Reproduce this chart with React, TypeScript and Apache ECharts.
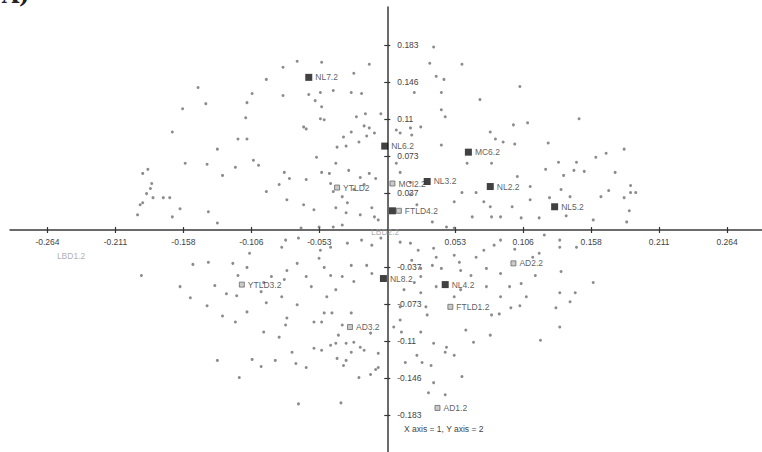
import React, { useEffect, useRef } from "react";
import * as echarts from "echarts";

// Background sample dots (axis 1, axis 2)
const sampleDots: [number, number][] = [
  [-0.147,0.141],[-0.159,0.120],[-0.141,0.125],[-0.167,0.097],[-0.109,0.126],[-0.110,0.111],[-0.105,0.135],[-0.116,0.090],[-0.109,0.090],[-0.132,0.080],
  [-0.081,0.161],[-0.070,0.167],[-0.051,0.166],[-0.094,0.149],[-0.081,0.133],[-0.061,0.134],[-0.052,0.136],[-0.042,0.138],[-0.028,0.136],[-0.020,0.135],[-0.026,0.155],[-0.014,0.164],[-0.056,0.128],[-0.051,0.122],[-0.052,0.110],[-0.049,0.109],[-0.065,0.102],[-0.063,0.100],[-0.024,0.112],[-0.017,0.115],[-0.018,0.103],[-0.014,0.101],[-0.005,0.115],[-0.034,0.092],[-0.028,0.097],[-0.022,0.087],[-0.016,0.093],[-0.010,0.096],[-0.039,0.082],[-0.032,0.083],
  [0.036,0.181],[0.033,0.165],[0.058,0.164],[0.038,0.152],[0.044,0.149],[0.021,0.136],[0.042,0.136],[0.042,0.119],[0.045,0.112],[0.072,0.129],[0.007,0.099],[0.010,0.096],[0.018,0.101],[0.026,0.102],[0.019,0.094],[0.042,0.084],[0.080,0.097],[0.084,0.090],[0.090,0.087],
  [0.103,0.142],[0.098,0.104],[0.109,0.106],[0.149,0.110],[0.099,0.085],[0.125,0.086],[0.184,0.080],
  [-0.190,0.056],[-0.186,0.060],[-0.183,0.046],[-0.184,0.041],[-0.187,0.036],[-0.182,0.032],[-0.174,0.032],[-0.169,0.032],[-0.192,0.025],[-0.190,0.027],[-0.194,0.015],[-0.167,0.013],[-0.161,0.021],[-0.157,0.066],[-0.140,0.065],[-0.128,0.054],[-0.118,0.062],[-0.139,0.018],[-0.132,0.007],[-0.104,0.069],[-0.107,-0.023],[-0.151,-0.034],[-0.139,-0.032],[-0.120,-0.033],[-0.109,-0.037],[-0.191,-0.045],[-0.161,-0.056],[-0.134,-0.055],[-0.116,-0.045],[-0.125,-0.063],[-0.117,-0.065],[-0.153,-0.067],
  [-0.100,0.064],[-0.080,0.057],[-0.076,0.051],[-0.084,0.045],[-0.063,0.050],[-0.078,0.030],[-0.094,0.038],[-0.065,0.025],[-0.057,0.020],[-0.051,0.057],[-0.045,0.056],[-0.040,0.066],[-0.055,0.072],[-0.030,0.059],[-0.021,0.052],[-0.014,0.056],[-0.009,0.051],[-0.026,0.040],[-0.018,0.045],[-0.044,0.046],[-0.042,0.038],[-0.035,0.033],[-0.031,0.027],[-0.040,0.022],[-0.032,0.017],[-0.021,0.015],[-0.012,0.022],[-0.010,0.013],[-0.007,0.010],[-0.035,0.005],[-0.042,0.003],[-0.053,0.003],[-0.067,0.002],
  [0.007,0.066],[0.010,0.057],[0.018,0.047],[0.018,0.035],[0.023,0.025],[0.052,0.028],[0.058,0.037],[0.062,0.066],[0.081,0.066],[0.069,0.037],[0.075,0.028],[0.080,0.023],[0.066,0.013],[0.081,0.013],[0.035,0.008],[0.046,0.003],[0.052,0.002],[0.088,0.013],
  [-0.079,-0.010],[-0.082,-0.017],[-0.069,-0.008],[-0.052,-0.020],[-0.044,-0.017],[-0.031,-0.013],[-0.020,-0.010],[-0.012,-0.015],[-0.005,-0.008],[-0.053,-0.028],[-0.049,-0.037],[-0.070,-0.033],[-0.078,-0.040],[-0.044,-0.045],[-0.035,-0.046],[-0.028,-0.035],[-0.016,-0.035],[-0.012,-0.043],[-0.026,-0.051],[-0.063,-0.046],[-0.080,-0.049],[-0.096,-0.052],[-0.090,-0.046],[-0.059,-0.056],[-0.040,-0.059],[-0.047,-0.066],[-0.082,-0.066],[-0.098,-0.061],
  [0.010,-0.012],[0.018,-0.013],[0.024,-0.020],[0.036,-0.018],[0.038,-0.027],[0.052,-0.025],[0.056,-0.032],[0.069,-0.027],[0.075,-0.020],[0.083,-0.015],[0.088,-0.010],[0.019,-0.030],[0.026,-0.038],[0.035,-0.035],[0.042,-0.038],[0.057,-0.040],[0.065,-0.045],[0.077,-0.038],[0.088,-0.043],[0.026,-0.046],[0.021,-0.052],[0.013,-0.059],[0.026,-0.062],[0.038,-0.056],[0.057,-0.059],[0.077,-0.056],[0.088,-0.066],[0.052,-0.066],
  [0.133,0.067],[0.147,0.067],[0.145,0.059],[0.153,0.058],[0.123,0.060],[0.137,0.054],[0.162,0.072],[0.170,0.076],[0.177,0.057],[0.111,0.043],[0.111,0.030],[0.101,0.053],[0.135,0.040],[0.142,0.033],[0.139,0.014],[0.118,0.012],[0.104,0.012],[0.126,0.032],[0.166,0.033],[0.172,0.039],[0.184,0.032],[0.189,0.044],[0.189,0.037],[0.193,0.037],[0.188,0.019],[0.186,0.008],[0.160,0.010],[0.097,0.023],[0.122,-0.005],[0.134,-0.010],[0.134,-0.017],[0.147,-0.017],[0.099,-0.019],[0.118,-0.023],[0.113,-0.027],[0.135,-0.041],[0.115,-0.045],[0.104,-0.053],[0.160,-0.052],[0.095,-0.056],[0.108,-0.066],[0.134,-0.062],[0.146,-0.062],
  [-0.140,-0.075],[-0.128,-0.085],[-0.118,-0.091],[-0.109,-0.081],[-0.132,-0.129],[-0.105,-0.128],[-0.115,-0.146],
  [-0.094,-0.072],[-0.070,-0.074],[-0.049,-0.082],[-0.043,-0.082],[-0.028,-0.082],[-0.078,-0.087],[-0.079,-0.094],[-0.057,-0.091],[-0.051,-0.091],[-0.035,-0.094],[-0.096,-0.101],[-0.084,-0.106],[-0.038,-0.104],[-0.013,-0.102],[0.005,-0.096],[0.010,-0.089],[0.011,-0.101],[0.026,-0.101],[0.010,-0.076],[0.031,-0.084],[0.030,-0.076],[0.061,-0.099],[0.067,-0.111],[0.080,-0.104],[0.081,-0.084],[0.087,-0.083],[0.036,-0.112],[0.046,-0.116],[0.045,-0.121],[0.052,-0.124],[-0.074,-0.121],[-0.057,-0.117],[-0.051,-0.119],[-0.044,-0.114],[-0.040,-0.112],[-0.032,-0.112],[-0.026,-0.111],[-0.021,-0.116],[-0.018,-0.119],[-0.028,-0.121],[-0.039,-0.127],[-0.032,-0.129],[-0.007,-0.122],[-0.087,-0.129],[-0.071,-0.132],[-0.063,-0.136],[-0.098,-0.135],[-0.034,-0.134],[-0.007,-0.136],[-0.009,-0.138],[0.014,-0.131],[0.023,-0.124],[0.027,-0.131],[0.034,-0.134],[0.036,-0.151],[0.058,-0.145],[0.032,-0.161],[0.045,-0.163],[-0.022,-0.146],[-0.013,-0.143],[-0.069,-0.172],[-0.036,-0.171],
  [0.096,-0.077],[0.103,-0.075],[0.131,-0.077],[0.142,-0.071],[0.134,-0.096],[0.119,-0.109],
];

// Black square groups (NL / MC)
const squareNames = ["NL7.2", "NL6.2", "MC6.2", "NL3.2", "NL2.2", "NL5.2", "", "NL8.2", "NL4.2"];
const squareX = [-0.061, -0.002, 0.063, 0.031, 0.080, 0.130, 0.004, -0.003, 0.045];
const squareY = [0.151, 0.083, 0.077, 0.048, 0.043, 0.023, 0.019, -0.048, -0.054];

// Grey marker groups (AD / FTLD / YTLD / MCI)
const greyNames = ["YTLD2", "MCI2.2", "FTLD4.2", "AD2.2", "FTLD1.2", "YTLD3.2", "AD3.2", "AD1.2"];
const greyX = [-0.039, 0.004, 0.009, 0.098, 0.049, -0.113, -0.029, 0.039];
const greyY = [0.042, 0.046, 0.019, -0.033, -0.076, -0.054, -0.096, -0.176];

// Faint groups (LBD)
const faintNames = ["LBD1.2", "LBD2.2"];
const faintX = [-0.259, -0.015];
const faintY = [-0.026, -0.002];

const xTicks = [-0.264, -0.2112, -0.1584, -0.1056, -0.0528, 0.0528, 0.1056, 0.1584, 0.2112, 0.264];
const yTicks = [-0.183, -0.1464, -0.1098, -0.0732, -0.0366, 0.0366, 0.0732, 0.1098, 0.1464, 0.183];

const X_MIN = -0.2931;
const X_MAX = 0.2911;
const Y_MIN = -0.2196;
const Y_MAX = 0.2206;

const W = 762;
const H = 452;
const GRID = { left: 10, right: 0, top: 7, bottom: 0 };

const fmt = (v: number) => String(Number(v.toFixed(3)));
const FONT = "Liberation Sans";

export default function App() {
  const ref = useRef<HTMLDivElement>(null);
  useEffect(() => {
    if (!ref.current) return;
    const chart = echarts.init(ref.current, undefined, { renderer: "svg" });
    const gw = W - GRID.left - GRID.right;
    const gh = H - GRID.top - GRID.bottom;
    // pixel distance of the zero lines from the grid edges
    const zeroFromLeft = (gw * (0 - X_MIN)) / (X_MAX - X_MIN);
    const zeroFromTop = (gh * (Y_MAX - 0)) / (Y_MAX - Y_MIN);
    const lineStyle = { color: "#3a3a3a", width: 1.5 };
    const tickStyle = { color: "#333", width: 1.2 };
    const labelStyle = { color: "#444", fontSize: 8.5, fontFamily: FONT };
    const xBase = { type: "value", min: X_MIN, max: X_MAX, splitLine: { show: false } };
    const yBase = { type: "value", min: Y_MIN, max: Y_MAX, splitLine: { show: false } };
    chart.setOption({
      animation: false,
      backgroundColor: "#ffffff",
      grid: { ...GRID, containLabel: false, outerBoundsMode: "none" },
      xAxis: [
        {
          ...xBase,
          position: "bottom",
          offset: -(gh - zeroFromTop),
          axisLine: { show: true, onZero: false, lineStyle },
          axisTick: { show: true, length: 3, customValues: xTicks, lineStyle: tickStyle },
          axisLabel: { show: true, customValues: xTicks, formatter: fmt, margin: 7, ...labelStyle },
        },
        {
          ...xBase,
          position: "top",
          offset: -zeroFromTop,
          axisLine: { show: false, onZero: false },
          axisTick: { show: true, length: 3, customValues: xTicks, lineStyle: tickStyle },
          axisLabel: { show: false },
        },
      ],
      yAxis: [
        {
          ...yBase,
          position: "left",
          offset: -zeroFromLeft,
          axisLine: { show: true, onZero: false, lineStyle },
          axisTick: { show: true, length: 3, customValues: yTicks, lineStyle: tickStyle },
          axisLabel: { show: true, inside: true, customValues: yTicks, formatter: fmt, margin: 10, ...labelStyle },
        },
        {
          ...yBase,
          position: "right",
          offset: -(gw - zeroFromLeft),
          axisLine: { show: false, onZero: false },
          axisTick: { show: true, length: 3, customValues: yTicks, lineStyle: tickStyle },
          axisLabel: { show: false },
        },
      ],
      graphic: [
        {
          type: "text",
          left: 2,
          top: -16,
          style: { text: "A)", font: "bold 22px 'DejaVu Serif'", fill: "#222" },
        },
        {
          type: "text",
          x: 404,
          y: 424,
          style: { text: "X axis = 1, Y axis = 2", font: `8.5px '${FONT}'`, fill: "#444" },
        },
      ],
      series: [
        {
          type: "scatter",
          symbol: "circle",
          symbolSize: 3,
          itemStyle: { color: "#6f6f6f" },
          data: sampleDots,
          silent: true,
        },
        {
          type: "scatter",
          symbol: "rect",
          symbolSize: 5,
          itemStyle: { color: "#bdbdbd", borderColor: "#6a6a6a", borderWidth: 1 },
          label: { show: true, position: "right", distance: 3, formatter: "{b}", ...labelStyle, color: "#333" },
          data: greyNames.map((n, i) => ({ name: n, value: [greyX[i], greyY[i]] })),
        },
        {
          type: "scatter",
          symbol: "rect",
          symbolSize: 0,
          itemStyle: { color: "#cfcfcf" },
          label: { show: true, position: "right", distance: 3, formatter: "{b}", ...labelStyle, color: "#9a9a9a" },
          data: faintNames.map((n, i) => ({ name: n, value: [faintX[i], faintY[i]] })),
        },
        {
          type: "scatter",
          symbol: "rect",
          symbolSize: 7,
          itemStyle: { color: "#111" },
          label: { show: true, position: "right", distance: 3, formatter: "{b}", ...labelStyle, color: "#333" },
          data: squareNames.map((n, i) => ({ name: n, value: [squareX[i], squareY[i]] })),
        },
      ],
    });
    return () => chart.dispose();
  }, []);
  return (
    <div
      ref={ref}
      style={{ position: "absolute", left: 0, top: 0, width: W, height: H, background: "#fff" }}
    />
  );
}
